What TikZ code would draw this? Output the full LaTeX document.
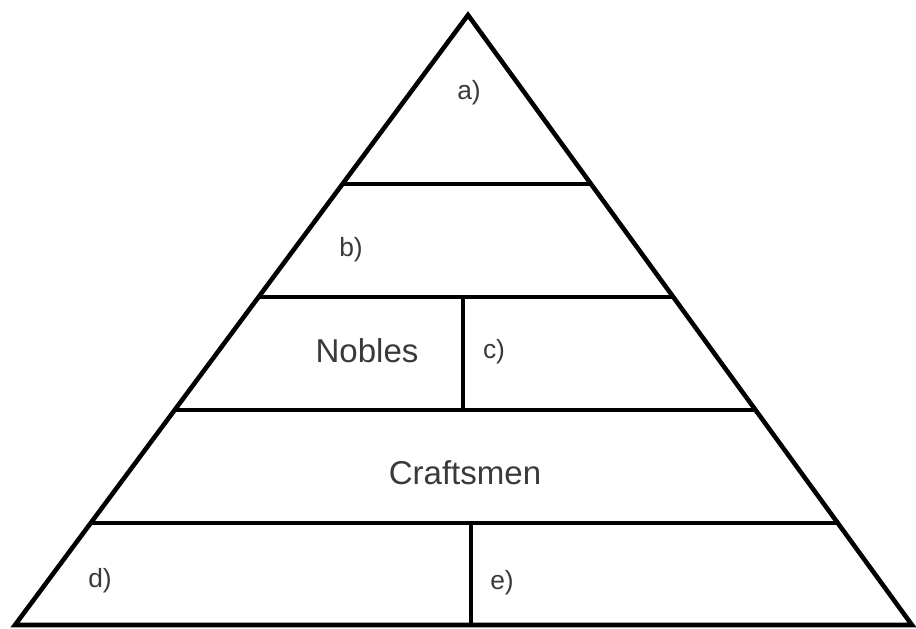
\documentclass[tikz,border=0pt]{standalone}
\usepackage{fontspec}
\setmainfont{Liberation Sans}
\usetikzlibrary{calc}

\definecolor{labelgray}{HTML}{3A3A3A}

\begin{document}
\begin{tikzpicture}[
    edge/.style={draw, line width=1.3pt, line join=miter},
    tier/.style={draw, line width=1.1pt},
    label/.style={text=labelgray, font=\fontsize{7.5}{9}\selectfont, inner sep=0pt},
    rank/.style={text=labelgray, font=\fontsize{9.4}{11}\selectfont, inner sep=0pt}
]

\useasboundingbox (0, 0) rectangle (9.16, 6.28);

% Corners of the pyramid
\coordinate (top) at (4.68, 6.13);
\coordinate (bl) at (0.15, 0.03);
\coordinate (br) at (9.12, 0.03);

% Outline
\path[edge] (bl) -- (top) -- (br) -- cycle;

% Tier boundaries (ends on the slanted sides)
\coordinate (L1) at ($(bl)!0.723!(top)$);
\coordinate (R1) at ($(br)!0.723!(top)$);
\coordinate (L2) at ($(bl)!0.538!(top)$);
\coordinate (R2) at ($(br)!0.538!(top)$);
\coordinate (L3) at ($(bl)!0.352!(top)$);
\coordinate (R3) at ($(br)!0.352!(top)$);
\coordinate (L4) at ($(bl)!0.167!(top)$);
\coordinate (R4) at ($(br)!0.167!(top)$);

\path[tier] (L1) -- (R1);
\path[tier] (L2) -- (R2);
\path[tier] (L3) -- (R3);
\path[tier] (L4) -- (R4);

% Dividers inside the tiers
\coordinate (D1a) at (4.63, 3.31);
\coordinate (D1b) at (4.63, 2.18);
\coordinate (D2a) at (4.71, 1.05);
\coordinate (D2b) at (4.71, 0.03);
\path[tier] (D1a) -- (D1b);
\path[tier] (D2a) -- (D2b);

% Labels
\node[label] (a) at (4.69, 5.35) {a)};
\node[label] (b) at (3.51, 3.78) {b)};
\node[rank] (nobles) at (3.67, 2.77) {Nobles};
\node[label] (c) at (4.94, 2.76) {c)};
\node[rank] (craftsmen) at (4.65, 1.55) {Craftsmen};
\node[label] (d) at (1.00, 0.47) {d)};
\node[label] (e) at (5.02, 0.45) {e)};

\end{tikzpicture}
\end{document}
